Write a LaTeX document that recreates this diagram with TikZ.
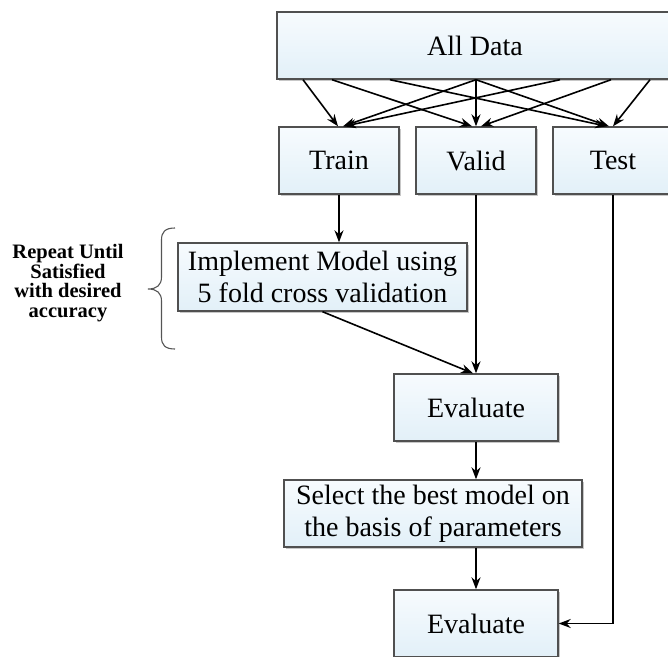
\documentclass[tikz,border=0pt]{standalone}
\usepackage{fontspec}
\setmainfont{Liberation Serif}
\usetikzlibrary{arrows.meta,shadows}
\definecolor{boxtop}{HTML}{F7FBFE}
\definecolor{boxbot}{HTML}{E2F0F8}
\definecolor{boxline}{HTML}{505050}
\definecolor{bracecol}{HTML}{555555}
\begin{document}
\begin{tikzpicture}[x=1pt,y=-1pt,
  box/.style={draw=boxline, line width=1.4pt, top color=boxtop, bottom color=boxbot,
    inner sep=0pt, align=center, font=\fontsize{28}{31.7}\selectfont,
    drop shadow={shadow xshift=1.8pt, shadow yshift=-2pt, opacity=0.22, fill=black}},
  flow/.style={line width=1.6pt, -{Stealth[length=12pt,width=9pt]}}]
\useasboundingbox (0,0) rectangle (668,656);
\clip (0,0) rectangle (668,656);

% boxes
\node[box, minimum width=396pt, minimum height=67pt] (all) at (475,45.5) {All Data};
\node[box, minimum width=120pt, minimum height=67pt] (train) at (339,160.5) {Train};
\node[box, minimum width=120pt, minimum height=67pt] (valid) at (476,160.5) {Valid};
\node[box, minimum width=120pt, minimum height=67pt] (test)  at (613,160.5) {Test};
\node[box, minimum width=289pt, minimum height=68pt] (impl) at (322.5,277)
  {Implement Model using\\5 fold cross validation};
\node[box, minimum width=164pt, minimum height=67pt] (eval1) at (476,407.5) {Evaluate};
\node[box, minimum width=298pt, minimum height=67pt] (select) at (433,513.5)
  {Select the best model on\\the basis of parameters};
\node[box, minimum width=164pt, minimum height=67pt] (eval2) at (476,623.5) {Evaluate};

% split of the data into the three sets
\draw[flow] (all.south -| 303,0) -- (train.north -| 338,0);
\draw[flow] (all.south -| 476,0) -- (train.north -| 343,0);
\draw[flow] (all.south -| 560,0) -- (train.north -| 344,0);
\draw[flow] (all.south -| 332,0) -- (valid.north -| 472,0);
\draw[flow] (all.south -| 476,0) -- (valid.north -| 476,0);
\draw[flow] (all.south -| 611,0) -- (valid.north -| 481,0);
\draw[flow] (all.south -| 390,0) -- (test.north -| 607,0);
\draw[flow] (all.south -| 476,0) -- (test.north -| 609,0);
\draw[flow] (all.south -| 650,0) -- (test.north -| 613,0);

% main flow
\draw[flow] (train.south) -- (impl.north -| train.south);
\draw[flow] (impl.south) -- (eval1.north -| 473,0);
\draw[flow] (valid.south) -- (eval1.north);
\draw[flow] (eval1.south) -- (select.north -| eval1.south);
\draw[flow] (select.south -| eval2.north) -- (eval2.north);
\draw[flow] (test.south) |- (eval2.east);

% loop note with brace
\coordinate (btop) at (175,228);
\coordinate (btip) at (148,289);
\coordinate (bbot) at (175,349);
\draw[bracecol, line width=1.1pt]
  (btop) .. controls (165,228) and (161.5,232) .. (161.5,240)
  -- (161.5,277) .. controls (161.5,285) and (157,289) .. (btip)
  .. controls (157,289) and (161.5,293) .. (161.5,301)
  -- (161.5,337) .. controls (161.5,345) and (165,349) .. (bbot);
\node[inner sep=0pt, anchor=north, align=center,
  font=\fontsize{20.5}{19.7}\selectfont\bfseries] (note) at (68,244)
  {Repeat Until\\Satisfied\\with desired\\accuracy};
\end{tikzpicture}
\end{document}
